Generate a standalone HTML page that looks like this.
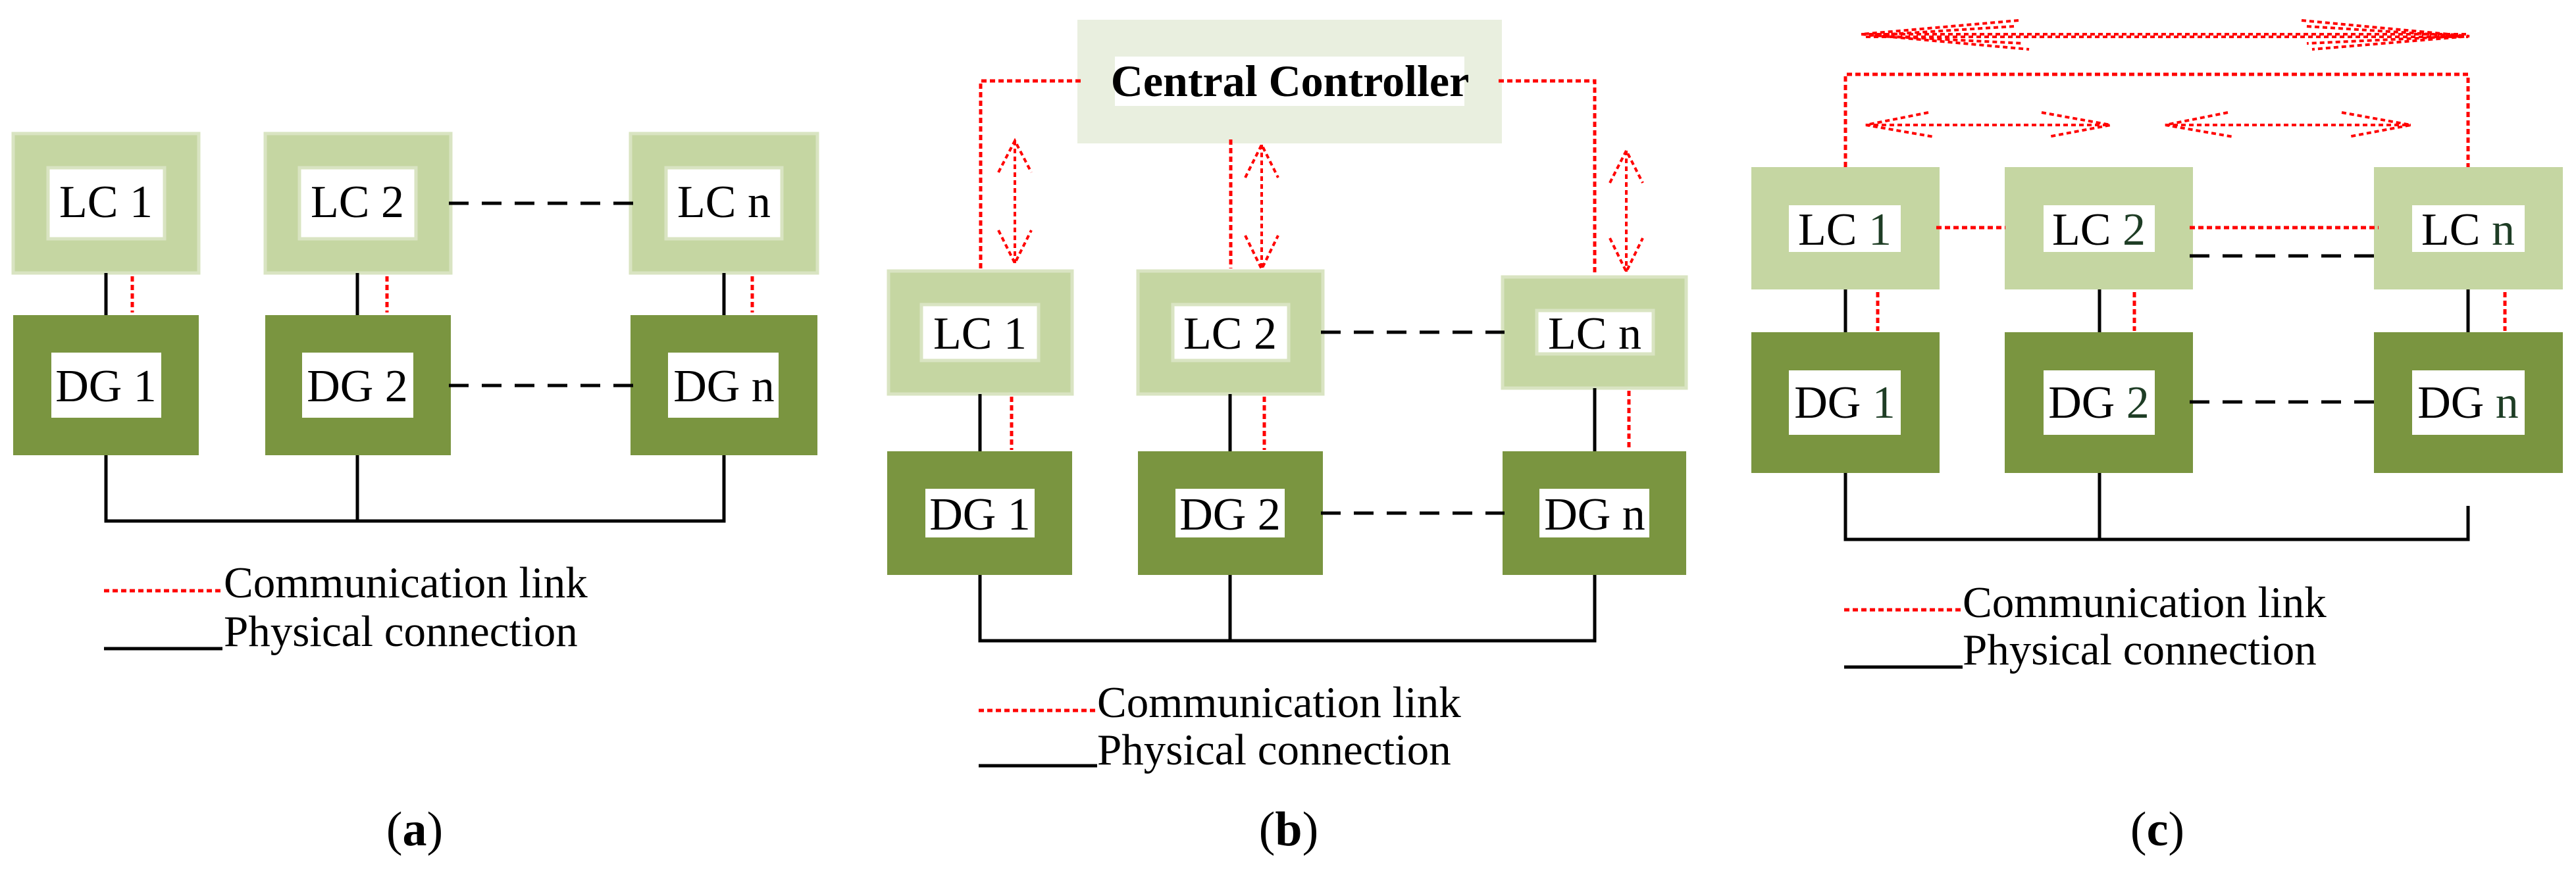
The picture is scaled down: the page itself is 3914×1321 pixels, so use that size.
<!DOCTYPE html>
<html><head><meta charset="utf-8"><style>
html,body{margin:0;padding:0;background:#fff;}
svg{display:block;}
text{font-family:"Liberation Serif","DejaVu Serif",serif;}
</style></head><body>
<svg width="3914" height="1321" viewBox="0 0 3914 1321" xmlns="http://www.w3.org/2000/svg" font-family="Liberation Serif, DejaVu Serif, serif">
<defs>
<style>
text{font-family:"Liberation Serif","DejaVu Serif",serif;}
.lc{fill:#c5d6a2;stroke:#d9e4c2;stroke-width:5}
.dg{fill:#7a9540}
.w{fill:#fff}
.wl{fill:#fff;stroke:#d9e4c2;stroke-width:5}
.bk{stroke:#000;stroke-width:5;fill:none}
.bd{stroke:#000;stroke-width:5;fill:none;stroke-dasharray:30 20}
.rd{stroke:#f00;stroke-width:5;fill:none;stroke-dasharray:8 5}
.rt{stroke:#f00;stroke-width:4;fill:none;stroke-dasharray:7 5}
.lb{font-size:70px;text-anchor:middle}
.lg{font-size:67px}
.cap{font-size:74px;text-anchor:middle}
.g{fill:#1e3d25}
</style>
</defs>

<!-- ===== Panel (a) ===== -->
<rect class="lc" x="20" y="203" width="282" height="212"/>
<rect class="wl" x="73" y="255" width="177" height="108"/>
<text class="lb" x="161" y="330">LC 1</text>
<rect class="lc" x="403" y="203" width="282" height="212"/>
<rect class="wl" x="455" y="255" width="177" height="108"/>
<text class="lb" x="543" y="330">LC 2</text>
<rect class="lc" x="958" y="203" width="284" height="212"/>
<rect class="wl" x="1012" y="255" width="176" height="108"/>
<text class="lb" x="1100" y="330">LC n</text>

<rect class="dg" x="20" y="479" width="282" height="213"/>
<rect class="w" x="78" y="536" width="167" height="99"/>
<text class="lb" x="161" y="610">DG 1</text>
<rect class="dg" x="403" y="479" width="282" height="213"/>
<rect class="w" x="459" y="536" width="169" height="99"/>
<text class="lb" x="543" y="610">DG 2</text>
<rect class="dg" x="958" y="479" width="284" height="213"/>
<rect class="w" x="1015" y="536" width="168" height="99"/>
<text class="lb" x="1100" y="610">DG n</text>

<line class="bk" x1="161" y1="415" x2="161" y2="479"/>
<line class="rd" x1="201" y1="420" x2="201" y2="475"/>
<line class="bk" x1="543" y1="415" x2="543" y2="479"/>
<line class="rd" x1="588" y1="420" x2="588" y2="475"/>
<line class="bk" x1="1100" y1="415" x2="1100" y2="479"/>
<line class="rd" x1="1143" y1="420" x2="1143" y2="475"/>

<line class="bd" x1="682" y1="309" x2="962" y2="309"/>
<line class="bd" x1="682" y1="586" x2="962" y2="586"/>

<polyline class="bk" points="161,692 161,792 1100,792 1100,692"/>
<line class="bk" x1="543" y1="692" x2="543" y2="792"/>

<line class="rd" x1="158" y1="898" x2="338" y2="898"/>
<text class="lg" x="340" y="908">Communication link</text>
<line class="bk" x1="158" y1="986" x2="338" y2="986"/>
<text class="lg" x="340" y="982">Physical connection</text>
<text class="cap" x="630" y="1285">(<tspan font-weight="bold">a</tspan>)</text>

<!-- ===== Panel (b) ===== -->
<rect x="1637" y="30" width="645" height="188" fill="#e9efdf"/>
<rect class="w" x="1694" y="86" width="531" height="75"/>
<text x="1960" y="146" font-size="68" font-weight="bold" text-anchor="middle">Central Controller</text>

<polyline class="rd" points="1642,123 1490,123 1490,415"/>
<polyline class="rd" points="2277,123 2423,123 2423,421"/>
<line class="rd" x1="1870" y1="212" x2="1870" y2="408"/>

<g class="rt">
<line x1="1542" y1="214" x2="1542" y2="400"/>
<polyline points="1517,262 1542,214 1567,262"/>
<polyline points="1517,350 1542,400 1567,350"/>
<line x1="1917" y1="220" x2="1917" y2="409"/>
<polyline points="1892,270 1917,220 1942,270"/>
<polyline points="1892,358 1917,409 1942,358"/>
<line x1="2471" y1="229" x2="2471" y2="413"/>
<polyline points="2446,278 2471,229 2496,278"/>
<polyline points="2446,362 2471,413 2496,362"/>
</g>

<rect class="lc" x="1350" y="412" width="279" height="187"/>
<rect class="wl" x="1400" y="463" width="178" height="85"/>
<text class="lb" x="1489" y="530">LC 1</text>
<rect class="lc" x="1729" y="412" width="281" height="187"/>
<rect class="wl" x="1782" y="463" width="176" height="85"/>
<text class="lb" x="1869" y="530">LC 2</text>
<rect class="lc" x="2283" y="421" width="279" height="169"/>
<rect class="wl" x="2335" y="472" width="177" height="66"/>
<text class="lb" x="2423" y="530">LC n</text>

<rect class="dg" x="1348" y="686" width="281" height="188"/>
<rect class="w" x="1406" y="743" width="166" height="74"/>
<text class="lb" x="1489" y="805">DG 1</text>
<rect class="dg" x="1729" y="686" width="281" height="188"/>
<rect class="w" x="1786" y="743" width="166" height="74"/>
<text class="lb" x="1869" y="805">DG 2</text>
<rect class="dg" x="2283" y="686" width="279" height="188"/>
<rect class="w" x="2339" y="743" width="167" height="74"/>
<text class="lb" x="2423" y="805">DG n</text>

<line class="bk" x1="1489" y1="599" x2="1489" y2="686"/>
<line class="rd" x1="1537" y1="603" x2="1537" y2="684"/>
<line class="bk" x1="1869" y1="599" x2="1869" y2="686"/>
<line class="rd" x1="1921" y1="603" x2="1921" y2="684"/>
<line class="bk" x1="2423" y1="590" x2="2423" y2="686"/>
<line class="rd" x1="2475" y1="594" x2="2475" y2="684"/>

<line class="bd" x1="2007" y1="505" x2="2286" y2="505"/>
<line class="bd" x1="2007" y1="780" x2="2286" y2="780"/>

<polyline class="bk" points="1489,874 1489,974 2423,974 2423,874"/>
<line class="bk" x1="1869" y1="874" x2="1869" y2="974"/>

<line class="rd" x1="1487" y1="1080" x2="1667" y2="1080"/>
<text class="lg" x="1667" y="1090">Communication link</text>
<line class="bk" x1="1487" y1="1164" x2="1667" y2="1164"/>
<text class="lg" x="1667" y="1162">Physical connection</text>
<text class="cap" x="1958" y="1285">(<tspan font-weight="bold">b</tspan>)</text>

<!-- ===== Panel (c) ===== -->
<g class="rt">
<line x1="2828" y1="52" x2="3752" y2="52"/>
<line x1="2835" y1="56" x2="3750" y2="56"/>
<polyline points="3067,31 2828,52 3083,75"/>
<polyline points="3060,40 2840,54 3075,66"/>
<polyline points="3497,31 3752,55 3513,75"/>
<polyline points="3505,40 3740,55 3505,66"/>
<line x1="2835" y1="190" x2="3207" y2="190"/>
<polyline points="2930,171 2835,190 2938,208"/>
<polyline points="3102,171 3207,190 3112,208"/>
<line x1="3290" y1="190" x2="3663" y2="190"/>
<polyline points="3385,171 3290,190 3393,208"/>
<polyline points="3558,171 3663,190 3568,208"/>
</g>
<polyline class="rd" points="2804,254 2804,113 3750,113 3750,254"/>

<rect x="2661" y="254" width="286" height="186" fill="#c5d6a2"/>
<rect class="w" x="2718" y="312" width="170" height="71"/>
<text class="lb" x="2803" y="372">LC <tspan class="g">1</tspan></text>
<rect x="3046" y="254" width="286" height="186" fill="#c5d6a2"/>
<rect class="w" x="3105" y="312" width="169" height="71"/>
<text class="lb" x="3189" y="372">LC <tspan class="g">2</tspan></text>
<rect x="3607" y="254" width="287" height="186" fill="#c5d6a2"/>
<rect class="w" x="3665" y="312" width="171" height="71"/>
<text class="lb" x="3750" y="372">LC <tspan class="g">n</tspan></text>

<rect class="dg" x="2661" y="505" width="286" height="214"/>
<rect class="w" x="2718" y="563" width="170" height="98"/>
<text class="lb" x="2803" y="635">DG <tspan class="g">1</tspan></text>
<rect class="dg" x="3046" y="505" width="286" height="214"/>
<rect class="w" x="3105" y="563" width="169" height="98"/>
<text class="lb" x="3189" y="635">DG <tspan class="g">2</tspan></text>
<rect class="dg" x="3607" y="505" width="287" height="214"/>
<rect class="w" x="3665" y="563" width="171" height="98"/>
<text class="lb" x="3750" y="635">DG <tspan class="g">n</tspan></text>

<line class="rd" x1="2942" y1="346" x2="3047" y2="346"/>
<line class="rd" x1="3327" y1="346" x2="3614" y2="346"/>
<line class="bd" x1="3327" y1="389" x2="3614" y2="389"/>
<line class="bd" x1="3327" y1="611" x2="3614" y2="611"/>

<line class="bk" x1="2804" y1="440" x2="2804" y2="505"/>
<line class="rd" x1="2853" y1="444" x2="2853" y2="503"/>
<line class="bk" x1="3190" y1="440" x2="3190" y2="505"/>
<line class="rd" x1="3243" y1="444" x2="3243" y2="503"/>
<line class="bk" x1="3750" y1="440" x2="3750" y2="505"/>
<line class="rd" x1="3806" y1="444" x2="3806" y2="503"/>

<polyline class="bk" points="2804,719 2804,820 3750,820 3750,769"/>
<line class="bk" x1="3190" y1="719" x2="3190" y2="820"/>

<line class="rd" x1="2802" y1="927" x2="2982" y2="927"/>
<text class="lg" x="2982" y="938">Communication link</text>
<line class="bk" x1="2802" y1="1014" x2="2982" y2="1014"/>
<text class="lg" x="2982" y="1010">Physical connection</text>
<text class="cap" x="3278" y="1285">(<tspan font-weight="bold">c</tspan>)</text>
</svg>
</body></html>
